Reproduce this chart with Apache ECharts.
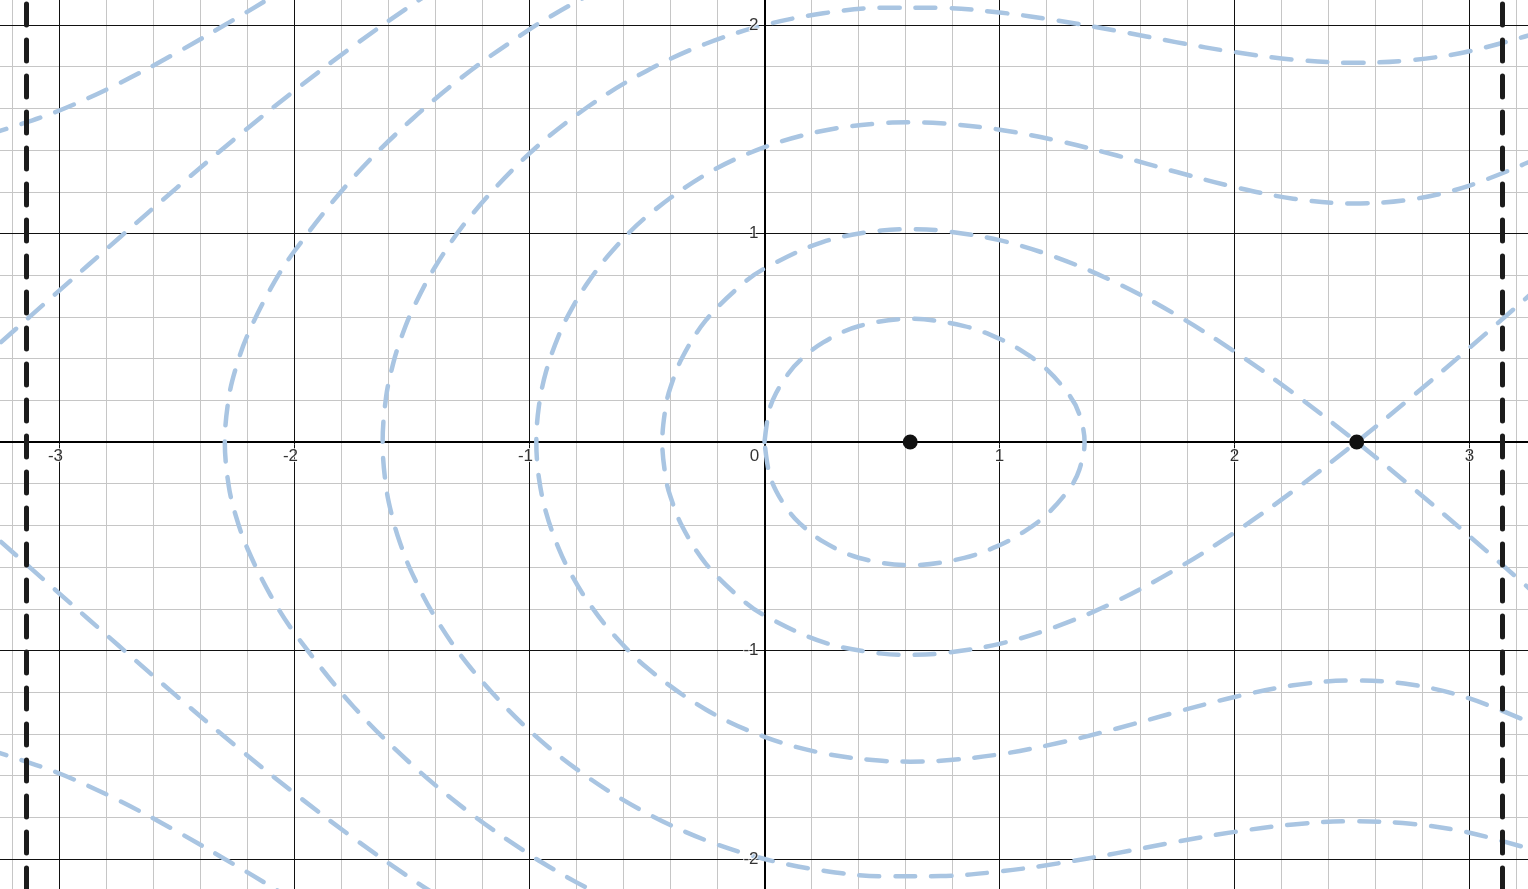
<!DOCTYPE html>
<html>
<head>
<meta charset="utf-8">
<script src="https://cdn.jsdelivr.net/npm/echarts@6/dist/echarts.min.js"></script>
<style>
html,body{margin:0;padding:0;background:#ffffff;overflow:hidden}
#chart{width:1528px;height:889px}
</style>
</head>
<body>
<div id="chart"></div>
<script>
// ---------- data ----------
const xRange = [-3.2532, 3.2489];
const yRange = [-2.1439, 2.1199];
const xTicks = [-3, -2, -1, 1, 2, 3];
const yTicks = [-2, -1, 1, 2];
const piLines = [-3.1416, 3.1416];
const equilibria = [[0.62, 0], [2.52, 0]];

const levelInner = [[0,0],[0.02,0.151],[0.05,0.236],[0.1,0.326],[0.15,0.39],[0.25,0.478],[0.4,0.555],[0.62,0.591],[0.85,0.556],[1.0,0.495],[1.1,0.433],[1.2,0.349],[1.3,0.22],[1.34,0.132],[1.362,0],
  [1.34,-0.132],[1.3,-0.22],[1.2,-0.349],[1.1,-0.433],[1.0,-0.495],[0.85,-0.556],[0.62,-0.591],[0.4,-0.555],[0.25,-0.478],[0.15,-0.39],[0.1,-0.326],[0.05,-0.236],[0.02,-0.151],[0,0]];

const separatrix = [[3.3,0.748],[3.0,0.452],[2.75,0.212],[2.52,0],[2.25,-0.235],[2.0,-0.434],[1.75,-0.611],[1.5,-0.762],[1.25,-0.882],[1.0,-0.968],[0.75,-1.014],[0.62,-1.021],[0.5,-1.015],[0.25,-0.96],[0,-0.832],[-0.1,-0.752],[-0.25,-0.583],[-0.35,-0.405],[-0.4,-0.263],[-0.42,-0.173],[-0.435,0],
  [-0.42,0.173],[-0.4,0.263],[-0.35,0.405],[-0.25,0.583],[-0.1,0.752],[0,0.832],[0.25,0.96],[0.5,1.015],[0.62,1.021],[0.75,1.014],[1.0,0.968],[1.25,0.882],[1.5,0.762],[1.75,0.611],[2.0,0.434],[2.25,0.235],[2.52,0],[2.75,-0.212],[3.0,-0.452],[3.3,-0.748]];

const level0 = [[3.3,1.366],[3.0,1.23],[2.75,1.163],[2.5,1.144],[2.25,1.167],[2.0,1.223],[1.75,1.296],[1.5,1.374],[1.25,1.444],[1.0,1.498],[0.75,1.529],[0.62,1.533],[0.5,1.529],[0.25,1.493],[0,1.414],[-0.25,1.283],[-0.5,1.083],[-0.65,0.914],[-0.75,0.768],[-0.82,0.64],[-0.875,0.513],[-0.93,0.336],[-0.96,0.172],[-0.971,0],
  [-0.96,-0.172],[-0.93,-0.336],[-0.875,-0.513],[-0.82,-0.64],[-0.75,-0.768],[-0.65,-0.914],[-0.5,-1.083],[-0.25,-1.283],[0,-1.414],[0.25,-1.493],[0.5,-1.529],[0.62,-1.533],[0.75,-1.529],[1.0,-1.498],[1.25,-1.444],[1.5,-1.374],[1.75,-1.296],[2.0,-1.223],[2.25,-1.167],[2.5,-1.144],[2.75,-1.163],[3.0,-1.23],[3.3,-1.366]];

const level1 = [[3.3,1.966],[3.0,1.874],[2.75,1.831],[2.5,1.819],[2.25,1.834],[2.0,1.87],[1.75,1.918],[1.5,1.972],[1.25,2.021],[1.0,2.06],[0.75,2.082],[0.5,2.083],[0.25,2.056],[0,2.0],[-0.25,1.91],[-0.5,1.781],[-0.75,1.609],[-1.0,1.384],[-1.25,1.084],[-1.4,0.843],[-1.5,0.629],[-1.55,0.487],[-1.58,0.377],[-1.61,0.218],[-1.625,0],
  [-1.61,-0.218],[-1.58,-0.377],[-1.55,-0.487],[-1.5,-0.629],[-1.4,-0.843],[-1.25,-1.084],[-1.0,-1.384],[-0.75,-1.609],[-0.5,-1.781],[-0.25,-1.91],[0,-2.0],[0.25,-2.056],[0.5,-2.083],[0.75,-2.082],[1.0,-2.06],[1.25,-2.021],[1.5,-1.972],[1.75,-1.918],[2.0,-1.87],[2.25,-1.834],[2.5,-1.819],[2.75,-1.831],[3.0,-1.874],[3.3,-1.966]];

const level2 = [[-0.7,2.171],[-0.8,2.112],[-0.9,2.048],[-1.0,1.979],[-1.25,1.782],[-1.5,1.548],[-1.75,1.268],[-2.0,0.916],[-2.1,0.739],[-2.2,0.512],[-2.25,0.353],[-2.28,0.21],[-2.2965,0],
  [-2.28,-0.21],[-2.25,-0.353],[-2.2,-0.512],[-2.1,-0.739],[-2.0,-0.916],[-1.75,-1.268],[-1.5,-1.548],[-1.25,-1.782],[-1.0,-1.979],[-0.9,-2.048],[-0.8,-2.112],[-0.7,-2.171]];

const level3Upper = [[-1.4,2.17],[-1.5,2.097],[-1.75,1.899],[-2.0,1.685],[-2.25,1.458],[-2.5,1.22],[-2.75,0.975],[-3.0,0.727],[-3.25,0.478],[-3.3,0.429]];
const level3Lower = [[-1.4,-2.17],[-1.5,-2.097],[-1.75,-1.899],[-2.0,-1.685],[-2.25,-1.458],[-2.5,-1.22],[-2.75,-0.975],[-3.0,-0.727],[-3.25,-0.478],[-3.3,-0.429]];
const level4Upper = [[-2.0,2.2],[-2.1,2.132],[-2.25,2.031],[-2.5,1.868],[-2.75,1.718],[-3.0,1.59],[-3.25,1.493],[-3.3,1.478]];
const level4Lower = [[-2.0,-2.2],[-2.1,-2.132],[-2.25,-2.031],[-2.5,-1.868],[-2.75,-1.718],[-3.0,-1.59],[-3.25,-1.493],[-3.3,-1.478]];

const curves = [levelInner, separatrix, level0, level1, level2, level3Upper, level3Lower, level4Upper, level4Lower];

// ---------- styles ----------
const CURVE_COLOR = '#a9c5e2';
const MINOR_COLOR = '#c6c6c6';
const MAJOR_COLOR = '#111111';
const FONT = 'Liberation Sans, Arial, sans-serif';

// minor grid positions (every 0.2, skipping integers)
const minorX = [], minorY = [];
for (let k = -16; k <= 16; k++) if (k % 5 !== 0) minorX.push(+(k * 0.2).toFixed(1));
for (let k = -10; k <= 10; k++) if (k % 5 !== 0) minorY.push(+(k * 0.2).toFixed(1));

const gridLineData = [];
minorX.forEach(v => gridLineData.push({ xAxis: v, lineStyle: { color: MINOR_COLOR, width: 1, type: 'solid' } }));
minorY.forEach(v => gridLineData.push({ yAxis: v, lineStyle: { color: MINOR_COLOR, width: 1, type: 'solid' } }));
xTicks.forEach(v => gridLineData.push({ xAxis: v, lineStyle: { color: MAJOR_COLOR, width: 1, type: 'solid' } }));
yTicks.forEach(v => gridLineData.push({ yAxis: v, lineStyle: { color: MAJOR_COLOR, width: 1, type: 'solid' } }));

const labelData = [];
xTicks.forEach(v => labelData.push({ name: String(v), value: [v, 0], label: { offset: [v < 0 ? -4 : 0, 14] } }));
yTicks.forEach(v => labelData.push({ name: String(v), value: [0, v], label: { align: 'right', offset: [-6, 0] } }));
labelData.push({ name: '0', value: [0, 0], label: { offset: [-10, 14] } });

const series = [];
series.push({
  type: 'scatter', name: 'labels', data: labelData, symbolSize: 1, z: 6,
  itemStyle: { color: 'rgba(0,0,0,0)' }, silent: true,
  label: {
    show: true, position: 'inside', formatter: p => p.name,
    color: '#000', fontSize: 17, fontFamily: FONT,
    textBorderColor: '#ffffff', textBorderWidth: 2, verticalAlign: 'middle'
  },
  markLine: {
    silent: true, symbol: ['none', 'none'], z: 0, animation: false,
    label: { show: false }, data: gridLineData
  }
});

curves.forEach((c, i) => series.push({
  type: 'line', name: 'curve' + i, data: c, smooth: 0.35, showSymbol: false, symbol: 'none',
  z: 2, silent: true, clip: true,
  lineStyle: { color: CURVE_COLOR, width: 4.5, type: [20, 16], cap: 'round', join: 'round' }
}));

series.push({
  type: 'scatter', name: 'equilibria', data: equilibria, symbol: 'circle', symbolSize: 15, z: 5,
  itemStyle: { color: '#111111', opacity: 1 }, silent: true,
  markLine: {
    silent: true, symbol: ['none', 'none'], z: 4, animation: false, label: { show: false },
    data: piLines.map(v => ({ xAxis: v })),
    lineStyle: { color: '#1c1c1c', width: 5, type: [21, 15], cap: 'round' }
  }
});

const chart = echarts.init(document.getElementById('chart'), null, { renderer: 'canvas' });
chart.setOption({
  animation: false,
  backgroundColor: '#ffffff',
  grid: { left: 0, right: 0, top: 0, bottom: 0, containLabel: false },
  xAxis: {
    type: 'value', min: xRange[0], max: xRange[1], z: 1,
    axisLine: { show: true, onZero: true, lineStyle: { color: '#000', width: 2 } },
    axisTick: { show: false }, axisLabel: { show: false }, splitLine: { show: false }
  },
  yAxis: {
    type: 'value', min: yRange[0], max: yRange[1], z: 1,
    axisLine: { show: true, onZero: true, lineStyle: { color: '#000', width: 2 } },
    axisTick: { show: false }, axisLabel: { show: false }, splitLine: { show: false }
  },
  series: series
});
</script>
</body>
</html>
